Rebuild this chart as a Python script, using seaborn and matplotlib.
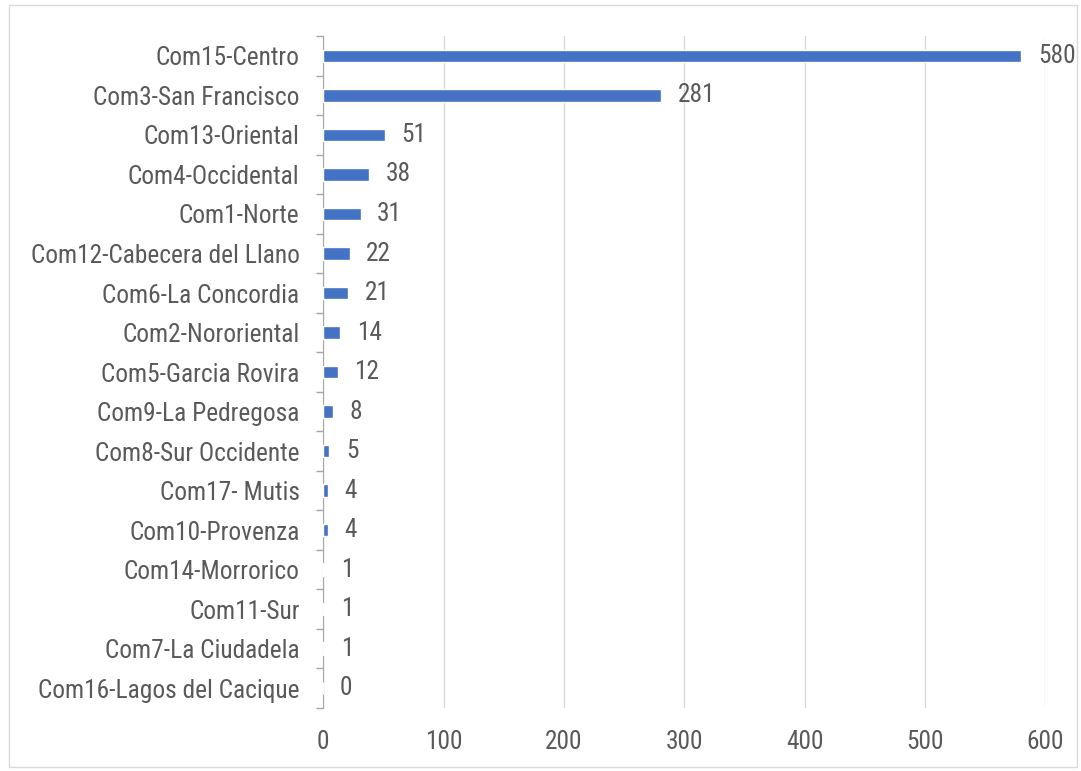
import seaborn as sns
import matplotlib.pyplot as plt
import matplotlib.patches as mpatches
from matplotlib import font_manager
import pandas as pd
import numpy as np

# Data
comunas = ['Com15-Centro', 'Com3-San Francisco', 'Com13-Oriental', 'Com4-Occidental',
           'Com1-Norte', 'Com12-Cabecera del Llano', 'Com6-La Concordia', 'Com2-Nororiental',
           'Com5-Garcia Rovira', 'Com9-La Pedregosa', 'Com8-Sur Occidente', 'Com17- Mutis',
           'Com10-Provenza', 'Com14-Morrorico', 'Com11-Sur', 'Com7-La Ciudadela',
           'Com16-Lagos del Cacique']
casos = [580, 281, 51, 38, 31, 22, 21, 14, 12, 8, 5, 4, 4, 1, 1, 1, 0]

df = pd.DataFrame({'Comuna': comunas, 'Casos': casos})

sns.set_style("white")
installed = {f.name for f in font_manager.fontManager.ttflist}
narrow = [f for f in ['Liberation Sans Narrow', 'Roboto Condensed', 'DejaVu Sans Condensed']
          if f in installed]
plt.rcParams['font.family'] = narrow + ['DejaVu Sans']
gray = '#595959'
fs = 18.3

fig = plt.figure(figsize=(10.81, 7.71), dpi=100)
ax = fig.add_axes([0.299, 0.082, 0.668, 0.871])

sns.barplot(data=df, x='Casos', y='Comuna', color='#4472C4', width=0.32,
            saturation=1, ax=ax, zorder=3)

ax.bar_label(ax.containers[0], padding=12, fontsize=fs, color=gray)

ax.set_xlim(0, 600)
ax.set_xticks(np.arange(0, 601, 100))
ax.xaxis.grid(True, color='#d9d9d9', linewidth=1, zorder=0)
ax.set_xlabel('')
ax.set_ylabel('')

for s in ['top', 'right', 'bottom']:
    ax.spines[s].set_visible(False)
ax.spines['left'].set_color('#a6a6a6')

ax.tick_params(axis='x', length=0, labelsize=fs, labelcolor=gray, pad=16)
ax.tick_params(axis='y', length=0, labelsize=fs, labelcolor=gray, pad=17)
ax.set_yticks(np.arange(-0.5, len(comunas), 1), minor=True)
ax.tick_params(axis='y', which='minor', left=True, length=5, width=1, color='#a6a6a6')
ax.set_ylim(len(comunas) - 0.5, -0.5)

# outer frame
fig.patches.append(mpatches.Rectangle((0.008, 0.005), 0.988, 0.988, transform=fig.transFigure,
                                      fill=False, edgecolor='#d9d9d9', linewidth=1))

plt.savefig('out.png', dpi=100)
